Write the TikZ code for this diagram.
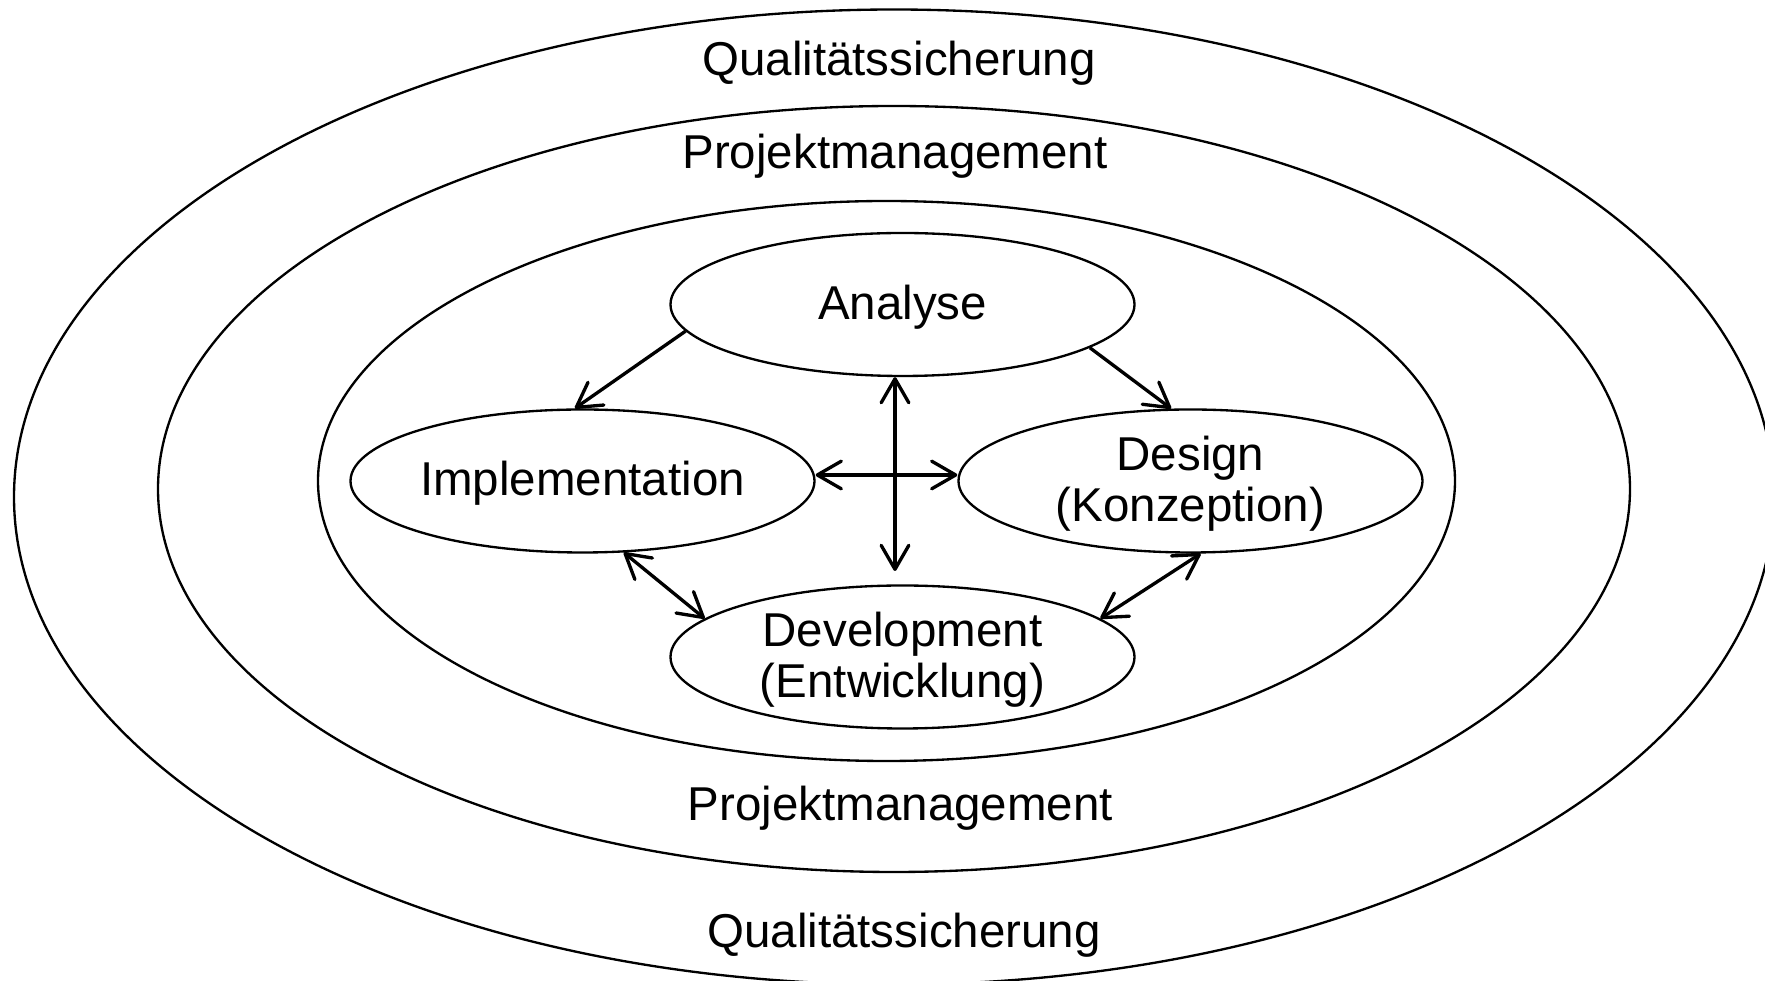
\documentclass[tikz,border=0pt]{standalone}
\usepackage{fontspec}
\setmainfont{Liberation Sans}
\usetikzlibrary{shapes.geometric,arrows.meta}
\begin{document}
\begin{tikzpicture}[x=0.3pt,y=-0.3pt,
  ring/.style={ellipse, draw, line width=0.7pt, inner sep=0pt},
  phase/.style={ellipse, draw, line width=0.7pt, inner xsep=0pt, inner ysep=-6pt,
    minimum width=139.2pt, minimum height=42.9pt, align=center,
    text height=10.5pt, text depth=1.5pt},
  phase2/.style={phase, text height=26.5pt, text depth=2pt},
  lbl/.style={anchor=base, inner sep=0pt},
  tip/.tip={Straight Barb[length=7.2pt,width=8.3pt,round]},
  arr/.style={line width=1pt, -tip},
  dbl/.style={line width=1pt, tip-tip},
  font=\fontsize{14.25}{15.5}\selectfont]
\useasboundingbox (0,0) rectangle (1765,981);
\clip (0,0) rectangle (1765,981);
% rings
\node[ring, minimum width=528pt, minimum height=292.5pt] (qs) at (894,497) {};
\node[ring, minimum width=441.6pt, minimum height=229.8pt] (pm) at (894,489) {};
\node[ring, minimum width=341.1pt, minimum height=168pt] (core) at (886.5,481) {};
% ring labels
\node[lbl] (qstop) at (899,75.5) {Qualitätssicherung};
\node[lbl] (pmtop) at (895,169) {Projektmanagement};
\node[lbl] (pmbot) at (900.5,821) {Projektmanagement};
\node[lbl] (qsbot) at (904,948) {Qualitätssicherung};
% phases
\node[phase] (ana) at (902.5,304.5) {Analyse};
\node[phase] (imp) at (582.5,481) {Implementation};
\node[phase2] (des) at (1190.5,481) {Design\\(Konzeption)};
\node[phase2] (dev) at (902.5,657) {Development\\(Entwicklung)};
% connectors
\coordinate (vbot) at (895,571);
\coordinate (hy) at (0,475);
\draw[arr] (ana.187) -- (imp.96);
\draw[arr] (ana.347) -- (des.105);
\draw[dbl] (vbot |- ana.264) -- (vbot);
\draw[dbl] (imp.east |- hy) -- (des.west |- hy);
\draw[dbl] (imp.300) -- (dev.169);
\draw[dbl] (des.278.6) -- (dev.11);
\end{tikzpicture}
\end{document}
